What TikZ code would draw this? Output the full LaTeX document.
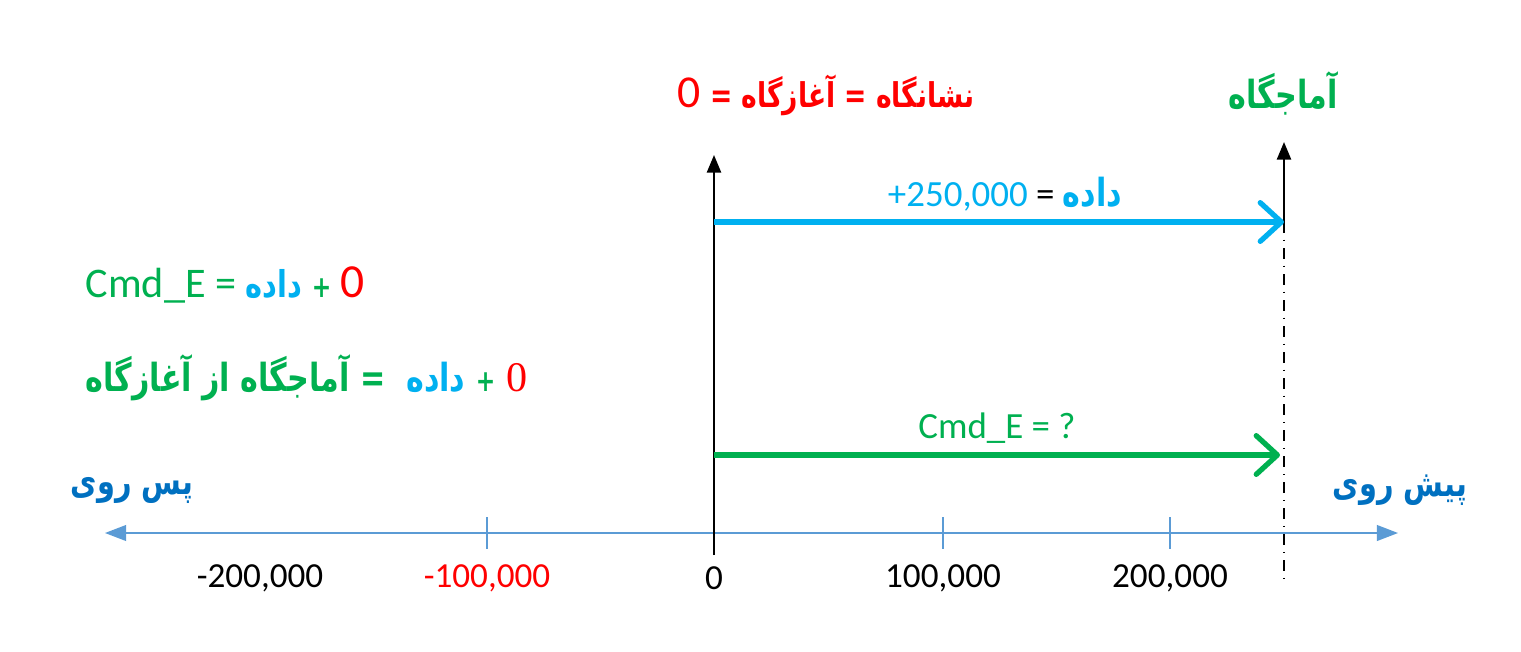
\documentclass[tikz,border=0pt]{standalone}
\usepackage{fontspec}
\setmainfont{Carlito}
\newfontfamily\latin{Carlito}
\newfontfamily\romain{Liberation Serif}
\newfontfamily\farsi[Script=Arabic, FakeStretch=0.78]{DejaVu Sans}
\TeXXeTstate=1
\usepackage{tikz}
\usetikzlibrary{arrows.meta, positioning}
\definecolor{rouge}{RGB}{255,0,0}
\definecolor{vert}{RGB}{0,176,80}
\definecolor{ciel}{RGB}{0,176,240}
\definecolor{bleu}{RGB}{0,112,192}
\definecolor{axe}{RGB}{91,155,213}

\begin{document}
\begin{tikzpicture}[x=0.01cm, y=-0.01cm, font=\latin\fontsize{10}{12}\selectfont,
	fa/.style={font=\farsi\bfseries\fontsize{10.5}{12}\selectfont},
	fleche/.style={line width=1.5pt, -{Straight Barb[length=6pt, width=11pt, round]}},
	repere/.style={black, semithick, -{Triangle[length=5pt, width=4pt]}}]
	\useasboundingbox (0,0) rectangle (1521,651);
	% axe des positions
	\coordinate (g) at (105,533);
	\coordinate (d) at (1398,533);
	\draw[axe, {Triangle[length=6pt, width=4.5pt]}-{Triangle[length=6pt, width=4.5pt]}] (g) -- (d);
	\foreach \x in {487, 714, 943, 1170}
		\draw[axe] (\x,517) -- (\x,549);
	\node (m2) at (260,578) {-200,000};
	\node[rouge] (m1) at (487,578) {-100,000};
	\node (z) at (714,578) {0};
	\node (p1) at (943,578) {100,000};
	\node (p2) at (1170,578) {200,000};
	\node[fa, bleu] (recul) at (132,490) {\beginR پس روی\endR};
	\node[fa, bleu] (avance) at (1400,490) {\beginR پیش روی\endR};
	% origine et cible
	\coordinate (o0) at (714,555);
	\coordinate (o1) at (714,155);
	\coordinate (c0) at (1284,580);
	\coordinate (c1) at (1284,222);
	\coordinate (c2) at (1284,142);
	\draw[repere] (o0) -- (o1);
	\draw[repere] (c1) -- (c2);
	\draw[black, thin, dash dot] (c1) -- (c0);
	\node[fa, rouge, font=\farsi\bfseries\fontsize{9.7}{13}\selectfont] (origine) at (826,95)
		{\beginR نشانگاه = آغازگاه = {\latin\mdseries\fontsize{13}{16}\selectfont 0}\endR};
	\node[fa, vert, font=\farsi\bfseries\fontsize{11}{13}\selectfont] (cible) at (1283,93)
		{\beginR آماجگاه\endR};
	% donnee et commande
	\coordinate (b0) at (714,222);
	\coordinate (v0) at (714,455);
	\coordinate (v1) at (1280,455);
	\draw[ciel, fleche] (b0) -- (c1);
	\draw[vert, fleche] (v0) -- (v1);
	\node[ciel, font=\latin\fontsize{10.5}{12}\selectfont] (donnee) at (1005,194)
		{+250,000 {\color{black}=} {\farsi\bfseries\fontsize{11}{13}\selectfont\beginR داده\endR}};
	\node[vert, font=\latin\fontsize{10.5}{12}\selectfont] (cmd) at (997,428) {Cmd\_E = ?};
	% equations
	\node[vert, right, inner sep=0pt, font=\latin\fontsize{12}{14}\selectfont] (eq1) at (85,285)
		{Cmd\_E = {\color{ciel}\farsi\bfseries\fontsize{10.5}{13}\selectfont\beginR داده\endR}
		{\farsi\bfseries\fontsize{8.5}{12}\selectfont +} {\color{rouge}\fontsize{13.5}{18}\selectfont 0}};
	\node[vert, right, inner sep=0pt, font=\farsi\bfseries\fontsize{11}{13}\selectfont] (eq2) at (85,378)
		{\beginR آماجگاه از آغازگاه\endR\ =\ \ {\color{ciel}\beginR داده\endR}
		{\fontsize{8.5}{12}\selectfont +} {\color{rouge}\romain\mdseries\fontsize{12}{18}\selectfont 0}};
\end{tikzpicture}
\end{document}
